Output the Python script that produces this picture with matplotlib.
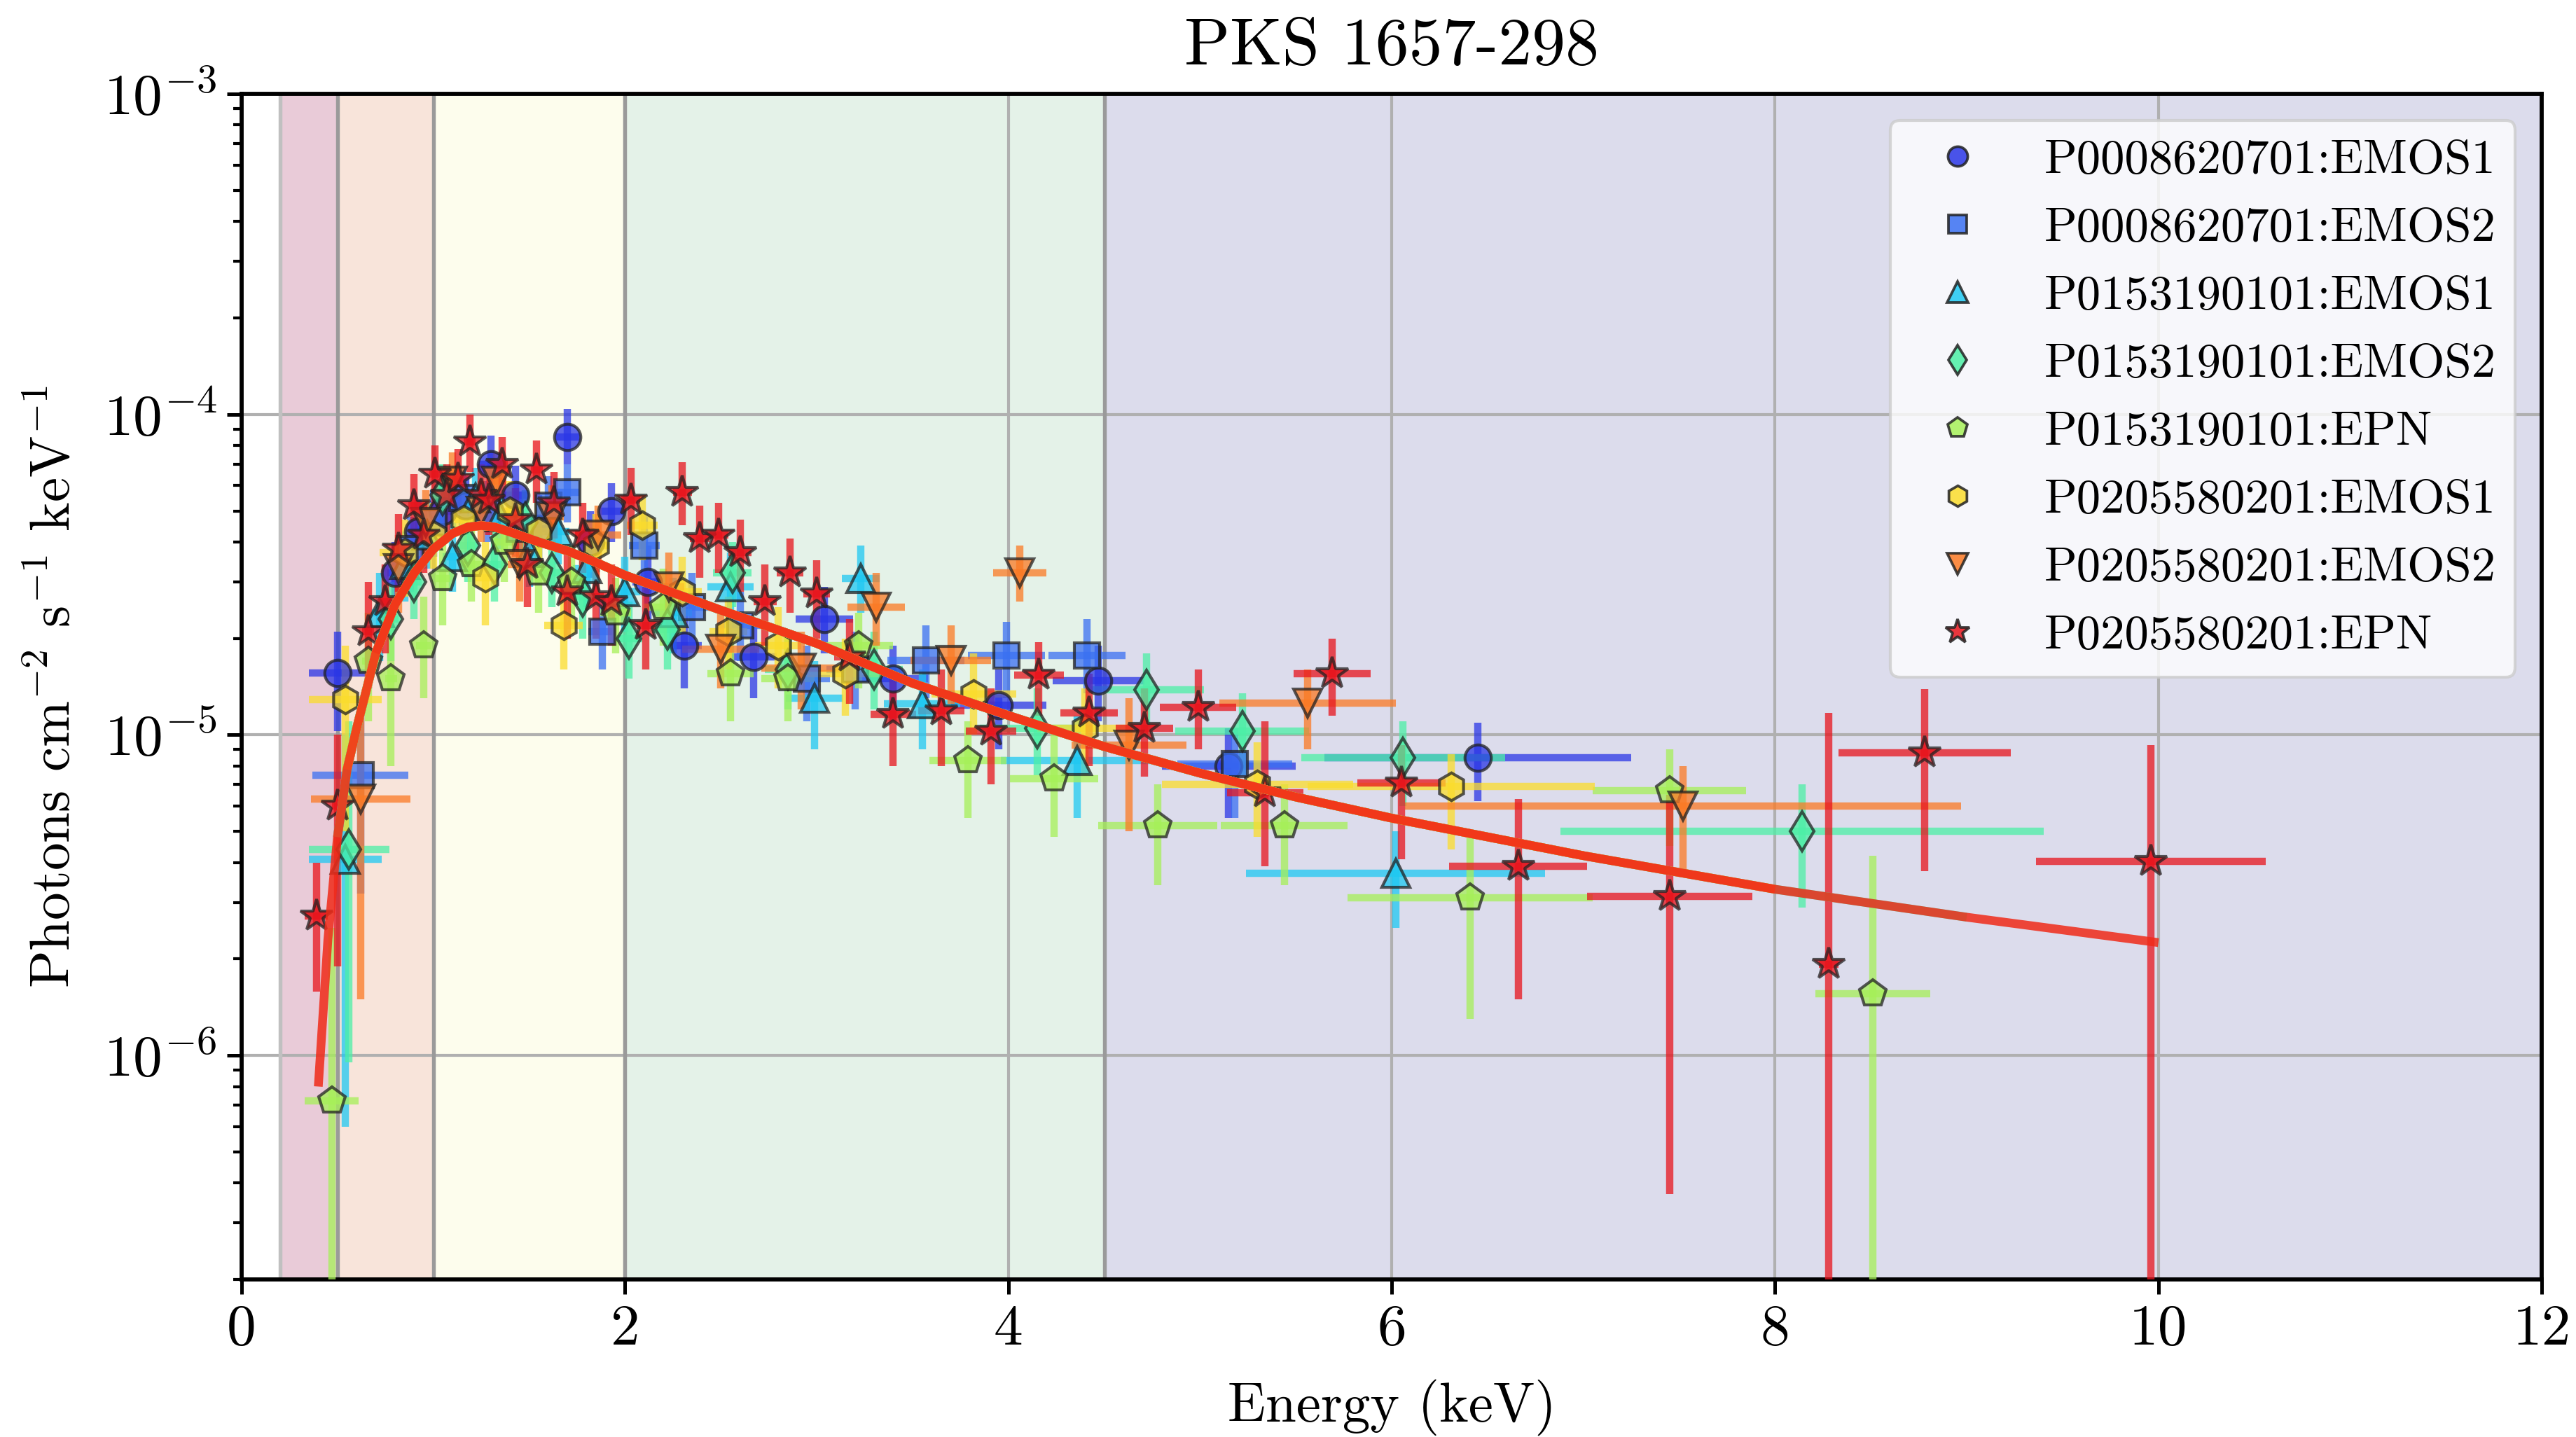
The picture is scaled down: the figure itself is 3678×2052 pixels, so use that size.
import numpy as np
import matplotlib
matplotlib.use('Agg')
import matplotlib.pyplot as plt
from matplotlib.lines import Line2D
from matplotlib.ticker import FixedLocator, FixedFormatter, LogLocator, NullFormatter

plt.rcParams.update({
    'font.family': 'serif',
    'font.serif': ['cmr10', 'DejaVu Serif'],
    'mathtext.fontset': 'cm',
    'axes.unicode_minus': False,
    'axes.formatter.use_mathtext': True,
})

# ---------------- data ----------------
labels = ['P0008620701:EMOS1', 'P0008620701:EMOS2', 'P0153190101:EMOS1',
          'P0153190101:EMOS2', 'P0153190101:EPN', 'P0205580201:EMOS1',
          'P0205580201:EMOS2', 'P0205580201:EPN']
colors = ['#2a36e6', '#3a70f2', '#1fc8f2', '#4cf0a6', '#a6f058', '#fbdc2c', '#fb7a24', '#e8141c']
markers = ['o', 's', '^', 'd', 'p', 'h', 'v', '*']

# series 1: P0008620701:EMOS1
E1 = [0.50, 0.80, 0.92, 1.05, 1.17, 1.30, 1.43, 1.55, 1.70, 1.82, 1.93, 2.12, 2.31, 2.67, 3.04, 3.40, 3.95, 4.47, 5.15, 6.45]
X1 = [0.15, 0.04, 0.04, 0.05, 0.05, 0.06, 0.06, 0.06, 0.06, 0.06, 0.06, 0.08, 0.09, 0.12, 0.15, 0.18, 0.25, 0.24, 0.35, 0.80]
F1 = [1.56e-5, 3.2e-5, 4.3e-5, 5.0e-5, 5.2e-5, 7.0e-5, 5.6e-5, 4.4e-5, 8.5e-5, 4.0e-5, 5.0e-5, 3.0e-5, 1.9e-5, 1.75e-5, 2.3e-5, 1.5e-5, 1.24e-5, 1.48e-5, 8.0e-6, 8.5e-6]
L1 = [1.03e-5, 2.4e-5, 3.3e-5, 4.0e-5, 4.2e-5, 5.6e-5, 4.5e-5, 3.4e-5, 7.0e-5, 3.1e-5, 4.0e-5, 2.3e-5, 1.4e-5, 1.3e-5, 1.8e-5, 1.1e-5, 9.0e-6, 1.1e-5, 5.5e-6, 6.2e-6]
U1 = [2.1e-5, 4.0e-5, 5.4e-5, 6.2e-5, 6.4e-5, 8.6e-5, 6.9e-5, 5.6e-5, 1.04e-4, 5.0e-5, 6.1e-5, 3.9e-5, 2.5e-5, 2.3e-5, 2.9e-5, 1.9e-5, 1.6e-5, 1.9e-5, 1.05e-5, 1.09e-5]

# series 2: P0008620701:EMOS2
E2 = [0.62, 0.88, 1.00, 1.15, 1.28, 1.45, 1.60, 1.70, 1.88, 2.10, 2.35, 2.60, 2.95, 3.20, 3.57, 3.99, 4.41, 5.18]
X2 = [0.25, 0.04, 0.05, 0.05, 0.05, 0.06, 0.06, 0.06, 0.07, 0.08, 0.10, 0.12, 0.12, 0.15, 0.20, 0.20, 0.20, 0.30]
F2 = [7.5e-6, 3.8e-5, 4.6e-5, 5.5e-5, 5.0e-5, 4.4e-5, 5.2e-5, 5.7e-5, 2.1e-5, 3.9e-5, 2.5e-5, 2.2e-5, 1.5e-5, 1.6e-5, 1.71e-5, 1.77e-5, 1.77e-5, 8.1e-6]
L2 = [3.2e-6, 2.8e-5, 3.6e-5, 4.4e-5, 4.0e-5, 3.5e-5, 4.2e-5, 4.6e-5, 1.6e-5, 3.0e-5, 1.9e-5, 1.7e-5, 1.1e-5, 1.2e-5, 1.3e-5, 1.3e-5, 1.35e-5, 5.5e-6]
U2 = [1.25e-5, 4.8e-5, 5.8e-5, 6.8e-5, 6.2e-5, 5.5e-5, 6.4e-5, 7.0e-5, 2.7e-5, 4.9e-5, 3.2e-5, 2.8e-5, 1.9e-5, 2.1e-5, 2.2e-5, 2.25e-5, 2.3e-5, 1.05e-5]

# series 3: P0153190101:EMOS1
E3 = [0.54, 0.72, 0.85, 0.97, 1.10, 1.22, 1.35, 1.50, 1.65, 1.80, 2.00, 2.25, 2.55, 2.99, 3.23, 3.55, 4.36, 6.02]
X3 = [0.19, 0.04, 0.04, 0.05, 0.05, 0.05, 0.05, 0.06, 0.06, 0.07, 0.08, 0.10, 0.12, 0.15, 0.10, 0.20, 0.40, 0.78]
F3 = [4.1e-6, 2.4e-5, 3.4e-5, 4.2e-5, 3.6e-5, 5.5e-5, 4.8e-5, 3.7e-5, 4.3e-5, 3.3e-5, 2.8e-5, 2.4e-5, 2.9e-5, 1.3e-5, 3.07e-5, 1.25e-5, 8.3e-6, 3.7e-6]
L3 = [6.0e-7, 1.7e-5, 2.6e-5, 3.3e-5, 2.8e-5, 4.4e-5, 3.8e-5, 2.9e-5, 3.4e-5, 2.5e-5, 2.1e-5, 1.8e-5, 2.2e-5, 9.0e-6, 2.4e-5, 9.0e-6, 5.5e-6, 2.5e-6]
U3 = [1.0e-5, 3.2e-5, 4.3e-5, 5.3e-5, 4.6e-5, 6.8e-5, 6.0e-5, 4.7e-5, 5.4e-5, 4.2e-5, 3.6e-5, 3.1e-5, 3.7e-5, 1.7e-5, 3.9e-5, 1.6e-5, 1.15e-5, 5.0e-6]

# series 4: P0153190101:EMOS2
E4 = [0.56, 0.78, 0.90, 1.05, 1.18, 1.32, 1.48, 1.62, 1.78, 2.02, 2.22, 2.56, 2.85, 3.30, 4.15, 4.72, 5.22, 6.06, 8.14]
X4 = [0.21, 0.04, 0.04, 0.05, 0.05, 0.05, 0.06, 0.06, 0.06, 0.07, 0.08, 0.10, 0.12, 0.15, 0.30, 0.30, 0.35, 0.53, 1.26]
F4 = [4.4e-6, 2.3e-5, 3.0e-5, 5.6e-5, 3.9e-5, 3.4e-5, 4.6e-5, 3.2e-5, 2.7e-5, 2.0e-5, 2.13e-5, 3.2e-5, 1.6e-5, 1.6e-5, 1.05e-5, 1.38e-5, 1.03e-5, 8.5e-6, 5.0e-6]
L4 = [9.5e-7, 1.7e-5, 2.3e-5, 4.5e-5, 3.0e-5, 2.6e-5, 3.6e-5, 2.5e-5, 2.0e-5, 1.5e-5, 1.6e-5, 2.5e-5, 1.2e-5, 1.2e-5, 7.5e-6, 1.0e-5, 7.5e-6, 6.0e-6, 2.9e-6]
U4 = [1.1e-5, 3.0e-5, 3.9e-5, 7.0e-5, 4.9e-5, 4.3e-5, 5.8e-5, 4.1e-5, 3.5e-5, 2.6e-5, 2.8e-5, 4.0e-5, 2.1e-5, 2.1e-5, 1.4e-5, 1.8e-5, 1.35e-5, 1.1e-5, 7.0e-6]

# series 5: P0153190101:EPN
E5 = [0.47, 0.66, 0.78, 0.95, 1.05, 1.20, 1.37, 1.55, 1.72, 1.95, 2.20, 2.55, 2.85, 3.22, 3.79, 4.24, 4.78, 5.44, 6.41, 7.45, 8.51]
X5 = [0.14, 0.03, 0.03, 0.04, 0.04, 0.05, 0.05, 0.06, 0.06, 0.08, 0.10, 0.12, 0.14, 0.18, 0.20, 0.23, 0.31, 0.33, 0.64, 0.40, 0.30]
F5 = [7.2e-7, 1.7e-5, 1.5e-5, 1.9e-5, 3.07e-5, 3.4e-5, 4.0e-5, 3.2e-5, 3.0e-5, 2.4e-5, 2.5e-5, 1.55e-5, 1.5e-5, 1.9e-5, 8.3e-6, 7.3e-6, 5.2e-6, 5.2e-6, 3.1e-6, 6.7e-6, 1.56e-6]
L5 = [1.0e-8, 1.1e-5, 8.0e-6, 1.3e-5, 2.2e-5, 2.6e-5, 3.0e-5, 2.4e-5, 2.2e-5, 1.8e-5, 1.9e-5, 1.1e-5, 1.1e-5, 1.4e-5, 5.5e-6, 4.8e-6, 3.4e-6, 3.4e-6, 1.3e-6, 4.5e-6, 1.0e-8]
U5 = [2.5e-6, 2.4e-5, 2.5e-5, 2.7e-5, 4.0e-5, 4.4e-5, 5.0e-5, 4.1e-5, 3.9e-5, 3.1e-5, 3.3e-5, 2.0e-5, 2.0e-5, 2.4e-5, 1.1e-5, 1.0e-5, 7.0e-6, 7.0e-6, 5.0e-6, 9.0e-6, 4.2e-6]

# series 6: P0205580201:EMOS1
E6 = [0.54, 0.85, 1.00, 1.16, 1.27, 1.40, 1.55, 1.68, 1.85, 2.09, 2.30, 2.54, 2.80, 3.15, 3.82, 4.40, 5.30, 6.31]
X6 = [0.19, 0.13, 0.05, 0.05, 0.05, 0.05, 0.06, 0.10, 0.07, 0.08, 0.10, 0.10, 0.12, 0.20, 0.22, 0.25, 0.50, 0.75]
F6 = [1.29e-5, 3.7e-5, 4.2e-5, 4.7e-5, 3.1e-5, 5.0e-5, 4.3e-5, 2.2e-5, 3.9e-5, 4.5e-5, 2.8e-5, 2.1e-5, 1.9e-5, 1.55e-5, 1.34e-5, 1.05e-5, 7.0e-6, 6.9e-6]
L6 = [5.0e-6, 2.7e-5, 3.3e-5, 3.7e-5, 2.2e-5, 4.0e-5, 3.4e-5, 1.6e-5, 3.0e-5, 3.5e-5, 2.1e-5, 1.6e-5, 1.4e-5, 1.15e-5, 1.0e-5, 7.5e-6, 4.8e-6, 4.4e-6]
U6 = [1.9e-5, 4.7e-5, 5.3e-5, 5.9e-5, 4.0e-5, 6.2e-5, 5.4e-5, 2.9e-5, 4.9e-5, 5.6e-5, 3.6e-5, 2.7e-5, 2.5e-5, 2.0e-5, 1.8e-5, 1.4e-5, 9.5e-6, 8.7e-6]

# series 7: P0205580201:EMOS2
E7 = [0.62, 0.82, 0.96, 1.10, 1.25, 1.33, 1.45, 1.62, 1.86, 2.23, 2.50, 2.92, 3.31, 3.70, 4.06, 4.63, 5.56, 7.52]
X7 = [0.26, 0.04, 0.04, 0.05, 0.05, 0.05, 0.06, 0.06, 0.12, 0.08, 0.20, 0.21, 0.15, 0.21, 0.14, 0.30, 0.46, 1.45]
F7 = [6.3e-6, 3.3e-5, 4.6e-5, 6.2e-5, 5.0e-5, 6.2e-5, 3.4e-5, 4.8e-5, 4.2e-5, 2.9e-5, 1.85e-5, 1.62e-5, 2.5e-5, 1.71e-5, 3.2e-5, 9.3e-6, 1.26e-5, 6.0e-6]
L7 = [1.5e-6, 2.4e-5, 3.6e-5, 5.0e-5, 4.0e-5, 5.0e-5, 2.6e-5, 3.8e-5, 3.3e-5, 2.2e-5, 1.4e-5, 1.2e-5, 1.9e-5, 1.25e-5, 2.6e-5, 5.0e-6, 9.0e-6, 3.7e-6]
U7 = [1.2e-5, 4.2e-5, 5.8e-5, 7.6e-5, 6.2e-5, 7.6e-5, 4.4e-5, 6.0e-5, 5.2e-5, 3.7e-5, 2.4e-5, 2.1e-5, 3.2e-5, 2.2e-5, 3.9e-5, 1.3e-5, 1.6e-5, 8.0e-6]

# series 8: P0205580201:EPN
E8 = [0.39, 0.50, 0.66, 0.75, 0.82, 0.90, 0.95, 1.01, 1.07, 1.13, 1.19, 1.25, 1.29, 1.36, 1.43, 1.49, 1.54, 1.63, 1.70, 1.78,
      1.85, 1.93, 2.03, 2.11, 2.30, 2.39, 2.49, 2.60, 2.73, 2.86, 3.00, 3.17, 3.40, 3.65, 3.91, 4.16, 4.42, 4.71, 4.99, 5.34,
      5.69, 6.05, 6.66, 7.45, 8.28, 8.78, 9.96]
X8 = [0.06, 0.03, 0.03, 0.03, 0.03, 0.03, 0.03, 0.03, 0.03, 0.03, 0.03, 0.03, 0.03, 0.03, 0.03, 0.03, 0.03, 0.04, 0.04, 0.04,
      0.04, 0.04, 0.05, 0.05, 0.05, 0.05, 0.05, 0.06, 0.06, 0.07, 0.07, 0.08, 0.12, 0.12, 0.13, 0.13, 0.15, 0.15, 0.20, 0.20,
      0.20, 0.23, 0.36, 0.43, 0.05, 0.45, 0.60]
F8 = [2.73e-6, 6.0e-6, 2.1e-5, 2.6e-5, 3.8e-5, 5.2e-5, 4.2e-5, 6.5e-5, 5.6e-5, 6.3e-5, 8.2e-5, 5.6e-5, 5.4e-5, 7.0e-5, 4.7e-5, 3.4e-5, 6.7e-5, 5.3e-5, 2.8e-5, 4.2e-5,
      2.7e-5, 2.6e-5, 5.4e-5, 2.2e-5, 5.7e-5, 4.1e-5, 4.2e-5, 3.7e-5, 2.6e-5, 3.2e-5, 2.75e-5, 1.75e-5, 1.16e-5, 1.19e-5, 1.03e-5, 1.54e-5, 1.17e-5, 1.05e-5, 1.22e-5, 6.6e-6,
      1.55e-5, 7.1e-6, 3.9e-6, 3.14e-6, 1.92e-6, 8.8e-6, 4.03e-6]
L8 = [1.58e-6, 1.9e-6, 1.4e-5, 1.8e-5, 2.8e-5, 4.0e-5, 3.2e-5, 5.0e-5, 4.3e-5, 4.9e-5, 6.6e-5, 4.4e-5, 4.2e-5, 5.5e-5, 3.6e-5, 2.5e-5, 5.3e-5, 4.1e-5, 2.0e-5, 3.2e-5,
      2.0e-5, 1.9e-5, 4.2e-5, 1.6e-5, 4.5e-5, 3.1e-5, 3.2e-5, 2.8e-5, 1.9e-5, 2.4e-5, 2.0e-5, 1.25e-5, 8.0e-6, 8.0e-6, 7.0e-6, 1.15e-5, 8.0e-6, 7.4e-6, 9.0e-6, 3.9e-6,
      1.15e-5, 4.1e-6, 1.5e-6, 3.7e-7, 1.0e-8, 3.76e-6, 1.0e-8]
U8 = [4.0e-6, 1.0e-5, 3.0e-5, 3.4e-5, 4.9e-5, 6.5e-5, 5.3e-5, 8.0e-5, 7.0e-5, 7.8e-5, 1.0e-4, 7.0e-5, 6.8e-5, 8.5e-5, 5.9e-5, 4.4e-5, 8.3e-5, 6.6e-5, 3.7e-5, 5.3e-5,
      3.5e-5, 3.4e-5, 6.8e-5, 2.9e-5, 7.1e-5, 5.2e-5, 5.3e-5, 4.7e-5, 3.4e-5, 4.1e-5, 3.5e-5, 2.3e-5, 1.55e-5, 1.6e-5, 1.4e-5, 1.95e-5, 1.55e-5, 1.4e-5, 1.6e-5, 1.1e-5,
      2.0e-5, 9.3e-6, 6.3e-6, 6.5e-6, 1.17e-5, 1.39e-5, 9.3e-6]

# fitted model curve
model_E = [0.40, 0.45, 0.50, 0.55, 0.60, 0.70, 0.80, 0.90, 1.00, 1.10, 1.18, 1.25, 1.32, 1.40, 1.55, 1.70, 1.85,
           2.00, 2.50, 3.00, 3.50, 4.00, 4.50, 5.00, 5.50, 6.00, 7.00, 8.00, 9.00, 10.0]
model_F = [8.0e-7, 2.3e-6, 4.8e-6, 7.8e-6, 1.05e-5, 1.8e-5, 2.55e-5, 3.2e-5, 3.8e-5, 4.25e-5, 4.45e-5, 4.5e-5, 4.45e-5, 4.3e-5,
           4.0e-5, 3.75e-5, 3.45e-5, 3.15e-5, 2.45e-5, 1.93e-5, 1.45e-5, 1.15e-5, 9.2e-6, 7.6e-6, 6.4e-6, 5.5e-6, 4.2e-6, 3.3e-6, 2.7e-6, 2.25e-6]

# energy bands (shaded)
band_edges = [0.2, 0.5, 1.0, 2.0, 4.5, 12.0]
band_colors = ['#e9cbd8', '#f8e4da', '#fdfded', '#e4f2e8', '#dcdcec']

series = [(E1, X1, F1, L1, U1), (E2, X2, F2, L2, U2), (E3, X3, F3, L3, U3), (E4, X4, F4, L4, U4),
          (E5, X5, F5, L5, U5), (E6, X6, F6, L6, U6), (E7, X7, F7, L7, U7), (E8, X8, F8, L8, U8)]

# ---------------- figure ----------------
fig = plt.figure(figsize=(12.26, 6.84), dpi=300)
ax = fig.add_axes([0.0938, 0.1096, 0.8929, 0.8251])

for i in range(len(band_colors)):
    ax.axvspan(band_edges[i], band_edges[i + 1], color=band_colors[i], zorder=0, lw=0)
for j, xe in enumerate(band_edges[:-1]):
    ax.axvline(xe, color='#c0c0c0' if j == 0 else '#9a9a9a', lw=1.3, zorder=1)

ax.grid(True, which='major', color='#b0b0b0', lw=1.0, zorder=1)
ax.set_axisbelow(True)

ms = [9, 8.5, 9.5, 9.5, 9.5, 9.5, 9.5, 11.5]
for k, (E, X, F, L, U) in enumerate(series):
    E = np.array(E); X = np.array(X); F = np.array(F); L = np.array(L); U = np.array(U)
    ax.errorbar(E, F, xerr=X, yerr=[F - L, U - F], fmt=markers[k], color=colors[k],
                ecolor=colors[k], elinewidth=2.5, capsize=0, ms=ms[k], mfc=colors[k],
                mec='#222222', mew=1.0, alpha=0.75, zorder=3 + k * 0.01)

mE = np.array(model_E); mF = np.array(model_F)
for k, (E, X, F, L, U) in enumerate(series):
    lo = min(E)
    hi = max(np.array(E) + np.array(X))
    m = (mE >= lo - 1e-9) & (mE <= hi)
    c = '#f02a18' if k == 7 else colors[k]
    ax.plot(mE[m], mF[m], color=c, lw=3.0, alpha=0.85, zorder=5 + k * 0.01,
            solid_capstyle='butt')

ax.set_yscale('log')
ax.set_xlim(0, 12)
ax.set_ylim(2e-7, 1e-3)
ax.set_xticks([0, 2, 4, 6, 8, 10, 12])
ax.set_xticklabels(['0', '2', '4', '6', '8', '10', '12'])
ax.yaxis.set_major_locator(FixedLocator([1e-6, 1e-5, 1e-4, 1e-3]))
ax.yaxis.set_major_formatter(FixedFormatter([r'$10^{-6}$', r'$10^{-5}$', r'$10^{-4}$', r'$10^{-3}$']))
ax.yaxis.set_minor_locator(LogLocator(base=10, subs=np.arange(2, 10)))
ax.yaxis.set_minor_formatter(NullFormatter())
ax.tick_params(axis='both', which='major', labelsize=20, length=5, width=1.2)
ax.tick_params(axis='y', which='minor', length=3, width=1.0)
for sp in ax.spines.values():
    sp.set_linewidth(1.4)

ax.set_title('PKS 1657-298', fontsize=23, pad=10)
ax.set_xlabel('Energy (keV)', fontsize=19, labelpad=8)
ax.set_ylabel(r'Photons cm$^{-2}$ s$^{-1}$ keV$^{-1}$', fontsize=19, labelpad=8)

handles = [Line2D([], [], ls='none', marker=markers[k], color=colors[k], mfc=colors[k], mec='#222222',
                  mew=0.9, ms=ms[k] * 0.75, alpha=0.85) for k in range(8)]
leg = ax.legend(handles, labels, loc='upper right', fontsize=16.5, frameon=True, fancybox=True,
                framealpha=0.8, facecolor='white', edgecolor='#cccccc', borderaxespad=0.55,
                labelspacing=0.52)
leg.set_zorder(10)

fig.savefig('out.png', dpi=300)
